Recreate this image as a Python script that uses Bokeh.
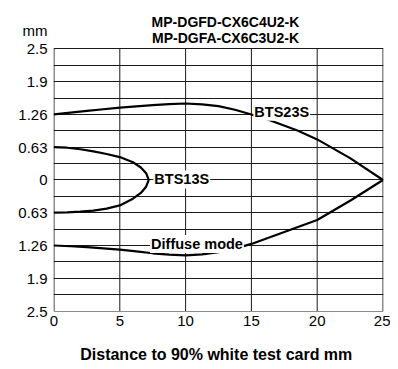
from bokeh.plotting import figure
from bokeh.models import FixedTicker, Label, Range1d
from bokeh.core.properties import value
from bokeh.embed import file_html
from bokeh.resources import INLINE

# ---- data ----
title_lines = ["MP-DGFD-CX6C4U2-K", "MP-DGFA-CX6C3U2-K"]
x_label = "Distance to 90% white test card  mm"
y_unit = "mm"
x_ticks = [0, 5, 10, 15, 20, 25]
y_ticks = [-2.52, -1.89, -1.26, -0.63, 0, 0.63, 1.26, 1.89, 2.52]
y_tick_labels = ["2.5", "1.9", "1.26", "0.63", "0", "0.63", "1.26", "1.9", "2.5"]

bts23s_x = [0, 1.25, 2.5, 3.75, 5, 6.25, 7.5, 8.75, 10, 11.25, 12.5, 13.75, 15, 16.5, 18.5, 20, 22.5, 25]
bts23s_y = [1.26, 1.295, 1.33, 1.36, 1.39, 1.415, 1.44, 1.46, 1.47, 1.455, 1.42, 1.35, 1.26, 1.14, 0.95, 0.78, 0.42, 0]

diffuse_x = [0, 1.25, 2.5, 3.75, 5, 6.25, 7.5, 8.75, 10, 11.25, 12.5, 13.75, 15, 17.5, 20, 22.5, 25]
diffuse_y = [-1.26, -1.275, -1.29, -1.315, -1.34, -1.375, -1.41, -1.435, -1.45, -1.43, -1.39, -1.32, -1.23, -1.0, -0.77, -0.40, 0]

bts13s_x = [0, 1, 2, 3, 4, 5, 6, 6.6, 7.0, 7.2, 7.0, 6.6, 6, 5, 4, 3, 2, 1, 0]
bts13s_y = [0.63, 0.62, 0.59, 0.55, 0.50, 0.44, 0.34, 0.24, 0.13, 0,
            -0.13, -0.25, -0.36, -0.49, -0.55, -0.59, -0.61, -0.625, -0.63]

FONT = "Liberation Sans"

# ---- layout geometry (pixels) ----
FRAME_LEFT, FRAME_W = 53, 330          # frame spans x = 53..383 px
FRAME_H = 311                           # frame spans y = 0..311 px (header lives inside it)
X0, X1 = x_ticks[0], x_ticks[-1]
xpad = 0.5 * (X1 - X0) / (FRAME_W - 1)
x_start, x_end = X0 - xpad, X1 + xpad
px_per_x = FRAME_W / (x_end - x_start)
Y0, Y1 = y_ticks[0], y_ticks[-1]
px_per_y = 52.0
y_start = Y0 - 0.5 / px_per_y
y_end = y_start + FRAME_H / px_per_y

def xd(px):   # page pixel -> x data
    return x_start + (px - FRAME_LEFT) / px_per_x

def yd(py):   # page pixel -> y data
    return y_end - py / px_per_y

p = figure(width=FRAME_LEFT + FRAME_W + 7, height=369, output_backend="svg", toolbar_location=None,
           x_range=Range1d(x_start, x_end), y_range=Range1d(y_start, y_end),
           min_border_left=FRAME_LEFT, min_border_right=7, min_border_top=0,
           min_border_bottom=369 - FRAME_H)
p.outline_line_color = None

# horizontal grid (full and half steps), vertical grid drawn only over the chart box
p.xgrid.visible = False
p.ygrid.ticker = FixedTicker(ticks=[Y0 + i * (Y1 - Y0) / 16 for i in range(17)])
p.ygrid.grid_line_color = "#1a1a1a"
p.ygrid.grid_line_width = 1
p.ygrid.grid_line_alpha = 1
p.segment(x0=x_ticks, y0=[Y0] * len(x_ticks), x1=x_ticks, y1=[Y1] * len(x_ticks),
          line_color="#1a1a1a", line_width=1)

# axes
p.xaxis.ticker = FixedTicker(ticks=x_ticks)
unit_tick = yd(30)
p.yaxis.ticker = FixedTicker(ticks=y_ticks + [unit_tick])
overrides = {t: l for t, l in zip(y_ticks, y_tick_labels)}
overrides[unit_tick] = y_unit
p.yaxis.major_label_overrides = overrides
for ax in (p.xaxis, p.yaxis):
    ax.axis_line_color = None
    ax.major_tick_line_color = None
    ax.minor_tick_line_color = None
    ax.major_tick_out = 0
    ax.major_tick_in = 0
    ax.major_label_text_font = FONT
    ax.major_label_text_font_size = "15px"
    ax.major_label_text_color = "black"
p.yaxis.major_label_standoff = 6
p.xaxis.major_label_standoff = 4
p.xaxis.axis_label = x_label
p.xaxis.axis_label_text_font = FONT
p.xaxis.axis_label_text_font_size = "16px"
p.xaxis.axis_label_text_font_style = "bold"
p.xaxis.axis_label_text_color = "black"
p.xaxis.axis_label_standoff = 17

# header titles
p.text(x=[xd(225), xd(225)], y=[yd(21), yd(37)], text=title_lines, text_font=value(FONT),
       text_font_size="14px", text_font_style="bold", text_align="center",
       text_baseline="alphabetic", text_color="black")

# curves
p.line(bts23s_x, bts23s_y, line_color="black", line_width=2.2)
p.line(diffuse_x, diffuse_y, line_color="black", line_width=2.2)
p.line(bts13s_x, bts13s_y, line_color="black", line_width=2.2)

# curve labels
def curve_label(x, y, text):
    p.add_layout(Label(x=x, y=y, text=text, text_font=FONT, text_font_size="14.5px",
                       text_font_style="bold", text_color="black",
                       text_baseline="alphabetic", text_align="left",
                       background_fill_color="white", padding=1))

curve_label(15.15, 1.31, "BTS23S")
curve_label(7.55, 0.01, "BTS13S")
curve_label(7.3, -1.23, "Diffuse mode")

open("out.html", "w").write(file_html(p, INLINE))
